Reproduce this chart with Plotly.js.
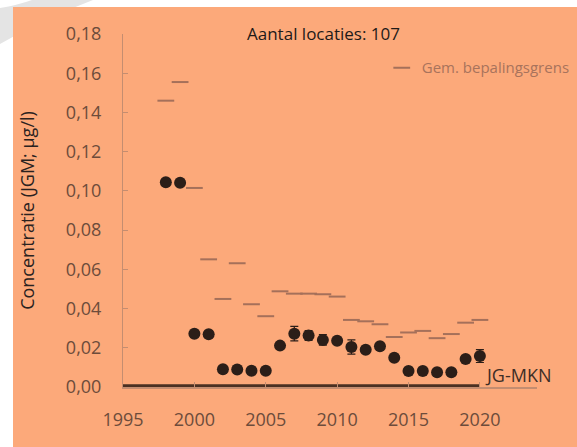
<!DOCTYPE html>
<html>
<head>
<meta charset="utf-8">
<script src="https://cdn.plot.ly/plotly-3.0.1.min.js"></script>
<style>
  html, body { margin: 0; padding: 0; background: #ffffff; width: 577px; height: 447px; overflow: hidden; }
  #wm { position: absolute; left: 0; top: 0; }
  #bg { position: absolute; left: 13px; top: 7px; width: 564px; height: 440px; background: #fca97a; }
  #chart { position: absolute; left: 0; top: 0; width: 577px; height: 447px; }
</style>
</head>
<body>
<svg id="wm" width="120" height="60"><path d="M 32 0 L 93 0 Q 45 18 0 44 L 0 8 Q 18 5 32 0 Z" fill="#e4e4e4"/></svg>
<div id="bg"></div>
<div id="chart"></div>
<script>
// Years and series
const years = [1998, 1999, 2000, 2001, 2002, 2003, 2004, 2005, 2006, 2007, 2008, 2009,
               2010, 2011, 2012, 2013, 2014, 2015, 2016, 2017, 2018, 2019, 2020];
const concentratie = [0.1044, 0.1041, 0.0272, 0.0269, 0.0090, 0.0089, 0.0083, 0.0083, 0.0211, 0.0272, 0.0263, 0.0240,
                      0.0236, 0.0204, 0.0190, 0.0208, 0.0149, 0.0082, 0.0082, 0.0075, 0.0075, 0.0143, 0.0158];
const foutmarge = [0.001, 0.001, 0.001, 0.001, 0.001, 0.001, 0.001, 0.001, 0.001, 0.0037, 0.0025, 0.0027,
                   0.001, 0.0036, 0.001, 0.001, 0.001, 0.001, 0.001, 0.001, 0.001, 0.001, 0.0033];
const bepalingsgrens = [0.146, 0.1555, 0.1015, 0.0651, 0.0449, 0.0631, 0.0422, 0.0361, 0.0488, 0.0476, 0.0476, 0.0473,
                        0.0461, 0.0342, 0.0335, 0.0320, 0.0255, 0.0278, 0.0286, 0.0249, 0.0270, 0.0328, 0.0342];
const jgMknYears = [1995, 2020];
const jgMknValues = [0.0006, 0.0006];
const yTicks = [0, 0.02, 0.04, 0.06, 0.08, 0.10, 0.12, 0.14, 0.16, 0.18];
const xTicks = [1995, 2000, 2005, 2010, 2015, 2020];

const font = "'Open Sans', sans-serif";
const traces = [
  {
    x: jgMknYears, y: jgMknValues, mode: 'lines', type: 'scatter',
    line: { color: '#4a3022', width: 3 }, showlegend: false, hoverinfo: 'skip', cliponaxis: false
  },
  {
    x: years, y: bepalingsgrens, mode: 'markers', type: 'scatter', name: 'Gem. bepalingsgrens',
    marker: { symbol: 'line-ew', size: 12, line: { color: '#a5705a', width: 2 } }, showlegend: true
  },
  {
    x: years, y: concentratie, mode: 'markers', type: 'scatter', name: 'Concentratie',
    marker: { symbol: 'circle', size: 12, color: '#2b1e18' },
    error_y: { type: 'data', array: foutmarge, visible: true, color: '#2b1e18', thickness: 1.2, width: 4 },
    showlegend: false
  }
];

const layout = {
  width: 577, height: 447,
  margin: { l: 123, r: 40, t: 34, b: 60, pad: 0, autoexpand: false },
  paper_bgcolor: 'rgba(0,0,0,0)', plot_bgcolor: 'rgba(0,0,0,0)',
  separators: ',.',
  font: { family: font, color: '#6d4c3b' },
  showlegend: true,
  legend: { x: 0.625, y: 0.904, xanchor: 'left', yanchor: 'middle', bgcolor: 'rgba(0,0,0,0)',
            font: { family: font, size: 15, color: '#a8735c' }, itemwidth: 30 },
  xaxis: {
    range: [1995, 2024], tickvals: xTicks, ticktext: xTicks.map(String),
    showgrid: false, zeroline: false, showline: true, linecolor: '#c48d70', linewidth: 1.5,
    ticks: 'inside', ticklen: 5, tickcolor: '#c48d70', tickwidth: 1,
    tickfont: { family: font, size: 18, color: '#6d4c3b' }, ticklabelstandoff: 16
  },
  yaxis: {
    range: [0, 0.18], tickvals: yTicks, tickformat: '.2f',
    showgrid: false, zeroline: false, showline: true, linecolor: '#c48d70', linewidth: 1,
    ticks: 'inside', ticklen: 5, tickcolor: '#c48d70', tickwidth: 1,
    tickfont: { family: font, size: 18, color: '#6d4c3b' }, ticklabelstandoff: 17,
    title: { text: 'Concentratie (JGM; µg/l)', font: { family: font, size: 18, color: '#2a2220' }, standoff: 26 }
  },
  annotations: [
    { text: 'Aantal locaties: 107', xref: 'paper', yref: 'paper', x: 0.484, y: 1.0, yshift: 1, xanchor: 'center', yanchor: 'middle',
      showarrow: false, font: { family: font, size: 17, color: '#1e1a18' } },
    { text: 'JG-MKN', xref: 'x', yref: 'y', x: 2020.2, y: 0.006, xanchor: 'left', yanchor: 'middle',
      showarrow: false, font: { family: font, size: 18, color: '#3e2e26' } }
  ]
};

Plotly.newPlot('chart', traces, layout, { displayModeBar: false, staticPlot: true });
</script>
</body>
</html>
